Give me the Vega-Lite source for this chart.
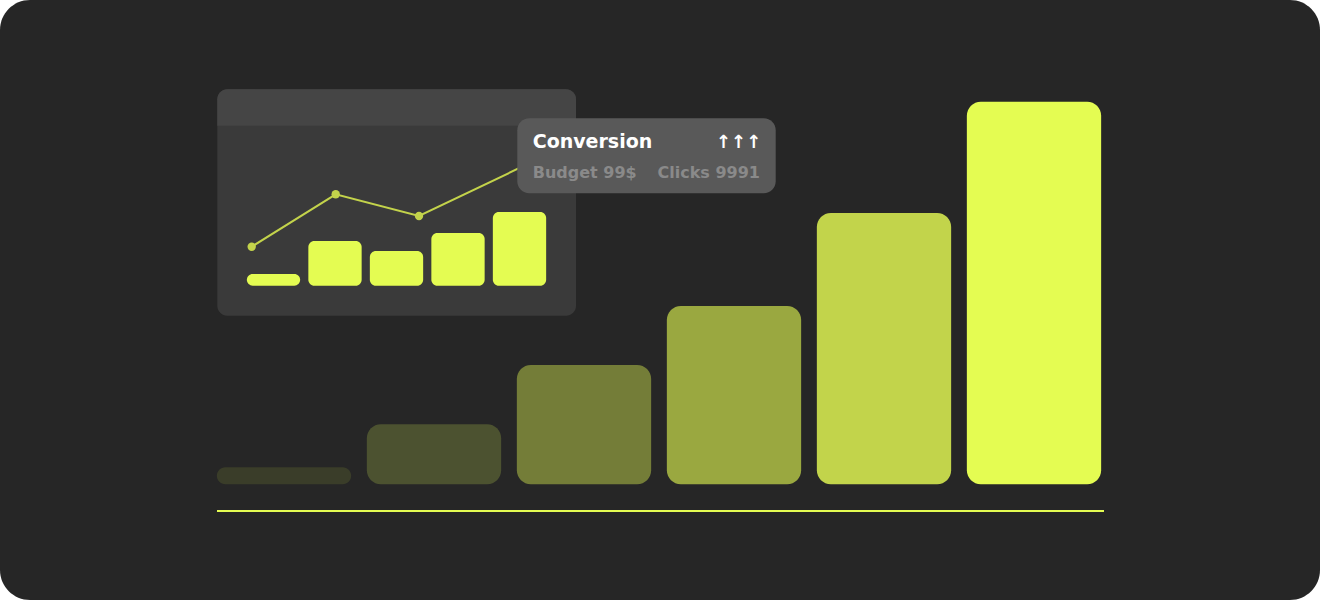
{
  "$schema": "https://vega.github.io/schema/vega-lite/v6.json",
  "width": 1320,
  "height": 600,
  "autosize": {"type": "fit", "contains": "padding"},
  "padding": 0,
  "background": "#ffffff",
  "config": {"view": {"fill": "#262626", "cornerRadius": 30, "stroke": null}, "scale": {"continuousPadding": 0}},
  "datasets": {
    "main": [
      {"slot": 1, "value": 17},
      {"slot": 2, "value": 60},
      {"slot": 3, "value": 119.3},
      {"slot": 4, "value": 178.3},
      {"slot": 5, "value": 271.3},
      {"slot": 6, "value": 382.6}
    ],
    "mini": [
      {"slot": 1, "value": 11.7},
      {"slot": 2, "value": 44.7},
      {"slot": 3, "value": 34.7},
      {"slot": 4, "value": 52.7},
      {"slot": 5, "value": 73.7}
    ],
    "trend": [
      {"pos": 0.6455, "value": 39},
      {"pos": 2.0114, "value": 91.4},
      {"pos": 3.3659, "value": 69.7},
      {"pos": 6.0813, "value": 149.5}
    ],
    "tip": [
      {"title": "Conversion", "arrows": "↑↑↑", "budget": "Budget 99$", "clicks": "Clicks 9991"}
    ]
  },
  "resolve": {"scale": {"x": "independent", "y": "independent"}},
  "layer": [
    {
      "layer": [
        {
          "data": {"name": "main"},
          "mark": {"type": "bar", "width": 134.3, "cornerRadius": 14},
          "encoding": {
            "x": {"field": "slot", "type": "quantitative", "scale": {"domain": [-0.8933, 7.9067], "nice": false, "zero": false, "padding": 0}, "axis": null},
            "y": {"field": "value", "type": "quantitative", "scale": {"domain": [-115.7, 484.3], "nice": false, "zero": false, "padding": 0}, "axis": null},
            "y2": {"datum": 0},
            "color": {"field": "slot", "type": "ordinal", "scale": {"range": ["#3a3d29", "#4c5230", "#747d38", "#9aa840", "#c2d44b", "#e4fc52"]}, "legend": null}
          }
        },
        {
          "data": {"name": "tip"},
          "mark": {"type": "rule", "color": "#e4fc52", "strokeWidth": 2},
          "encoding": {
            "x": {"datum": 0.5533, "type": "quantitative", "scale": {"domain": [-0.8933, 7.9067], "nice": false, "zero": false, "padding": 0}, "axis": null},
            "x2": {"datum": 6.4667},
            "y": {"datum": -26.7, "type": "quantitative", "scale": {"domain": [-115.7, 484.3], "nice": false, "zero": false, "padding": 0}, "axis": null}
          }
        }
      ]
    },
    {
      "layer": [
        {
          "data": {"name": "tip"},
          "mark": {"type": "rect", "color": "#3a3a3a", "cornerRadius": 10},
          "encoding": {
            "x": {"datum": 0.0862, "type": "quantitative", "scale": {"domain": [-3.4472, 18.0163], "nice": false, "zero": false, "padding": 0}, "axis": null},
            "x2": {"datum": 5.9187},
            "y": {"datum": 196.4, "type": "quantitative", "scale": {"domain": [-314.3, 285.7], "nice": false, "zero": false, "padding": 0}, "axis": null},
            "y2": {"datum": -30}
          }
        },
        {
          "data": {"name": "tip"},
          "mark": {"type": "rect", "color": "#454545", "cornerRadiusTopLeft": 10, "cornerRadiusTopRight": 10},
          "encoding": {
            "x": {"datum": 0.0862, "type": "quantitative", "scale": {"domain": [-3.4472, 18.0163], "nice": false, "zero": false, "padding": 0}, "axis": null},
            "x2": {"datum": 5.9187},
            "y": {"datum": 196.4, "type": "quantitative", "scale": {"domain": [-314.3, 285.7], "nice": false, "zero": false, "padding": 0}, "axis": null},
            "y2": {"datum": 160}
          }
        },
        {
          "data": {"name": "mini"},
          "mark": {"type": "bar", "width": 53.3, "cornerRadius": 6, "color": "#e4fc52"},
          "encoding": {
            "x": {"field": "slot", "type": "quantitative", "scale": {"domain": [-3.4472, 18.0163], "nice": false, "zero": false, "padding": 0}, "axis": null},
            "y": {"field": "value", "type": "quantitative", "scale": {"domain": [-314.3, 285.7], "nice": false, "zero": false, "padding": 0}, "axis": null},
            "y2": {"datum": 0}
          }
        },
        {
          "data": {"name": "trend"},
          "mark": {"type": "line", "color": "#c3d34b", "strokeWidth": 2},
          "encoding": {
            "x": {"field": "pos", "type": "quantitative", "scale": {"domain": [-3.4472, 18.0163], "nice": false, "zero": false, "padding": 0}, "axis": null},
            "y": {"field": "value", "type": "quantitative", "scale": {"domain": [-314.3, 285.7], "nice": false, "zero": false, "padding": 0}, "axis": null}
          }
        },
        {
          "data": {"name": "trend"},
          "mark": {"type": "point", "filled": true, "opacity": 1, "size": 70, "color": "#c3d34b"},
          "encoding": {
            "x": {"field": "pos", "type": "quantitative", "scale": {"domain": [-3.4472, 18.0163], "nice": false, "zero": false, "padding": 0}, "axis": null},
            "y": {"field": "value", "type": "quantitative", "scale": {"domain": [-314.3, 285.7], "nice": false, "zero": false, "padding": 0}, "axis": null}
          }
        },
        {
          "data": {"name": "tip"},
          "mark": {"type": "rect", "color": "#595959", "cornerRadius": 12},
          "encoding": {
            "x": {"datum": 4.9642, "type": "quantitative", "scale": {"domain": [-3.4472, 18.0163], "nice": false, "zero": false, "padding": 0}, "axis": null},
            "x2": {"datum": 9.1659},
            "y": {"datum": 167.4, "type": "quantitative", "scale": {"domain": [-314.3, 285.7], "nice": false, "zero": false, "padding": 0}, "axis": null},
            "y2": {"datum": 92.4}
          }
        },
        {
          "data": {"name": "tip"},
          "mark": {"type": "text", "align": "left", "baseline": "alphabetic", "font": "DejaVu Sans", "fontSize": 19, "fontWeight": "bold", "color": "#ffffff"},
          "encoding": {
            "x": {"datum": 5.2146, "type": "quantitative", "scale": {"domain": [-3.4472, 18.0163], "nice": false, "zero": false, "padding": 0}, "axis": null},
            "y": {"datum": 138, "type": "quantitative", "scale": {"domain": [-314.3, 285.7], "nice": false, "zero": false, "padding": 0}, "axis": null},
            "text": {"field": "title"}
          }
        },
        {
          "data": {"name": "tip"},
          "mark": {"type": "text", "align": "right", "baseline": "alphabetic", "font": "DejaVu Sans", "fontSize": 18, "fontWeight": "bold", "color": "#ffffff"},
          "encoding": {
            "x": {"datum": 8.9268, "type": "quantitative", "scale": {"domain": [-3.4472, 18.0163], "nice": false, "zero": false, "padding": 0}, "axis": null},
            "y": {"datum": 137.4, "type": "quantitative", "scale": {"domain": [-314.3, 285.7], "nice": false, "zero": false, "padding": 0}, "axis": null},
            "text": {"field": "arrows"}
          }
        },
        {
          "data": {"name": "tip"},
          "mark": {"type": "text", "align": "left", "baseline": "alphabetic", "font": "DejaVu Sans", "fontSize": 16, "fontWeight": "bold", "color": "#8a8a8a"},
          "encoding": {
            "x": {"datum": 5.2146, "type": "quantitative", "scale": {"domain": [-3.4472, 18.0163], "nice": false, "zero": false, "padding": 0}, "axis": null},
            "y": {"datum": 107.4, "type": "quantitative", "scale": {"domain": [-314.3, 285.7], "nice": false, "zero": false, "padding": 0}, "axis": null},
            "text": {"field": "budget"}
          }
        },
        {
          "data": {"name": "tip"},
          "mark": {"type": "text", "align": "right", "baseline": "alphabetic", "font": "DejaVu Sans", "fontSize": 16, "fontWeight": "bold", "color": "#8a8a8a"},
          "encoding": {
            "x": {"datum": 8.9106, "type": "quantitative", "scale": {"domain": [-3.4472, 18.0163], "nice": false, "zero": false, "padding": 0}, "axis": null},
            "y": {"datum": 107.4, "type": "quantitative", "scale": {"domain": [-314.3, 285.7], "nice": false, "zero": false, "padding": 0}, "axis": null},
            "text": {"field": "clicks"}
          }
        }
      ]
    }
  ]
}
